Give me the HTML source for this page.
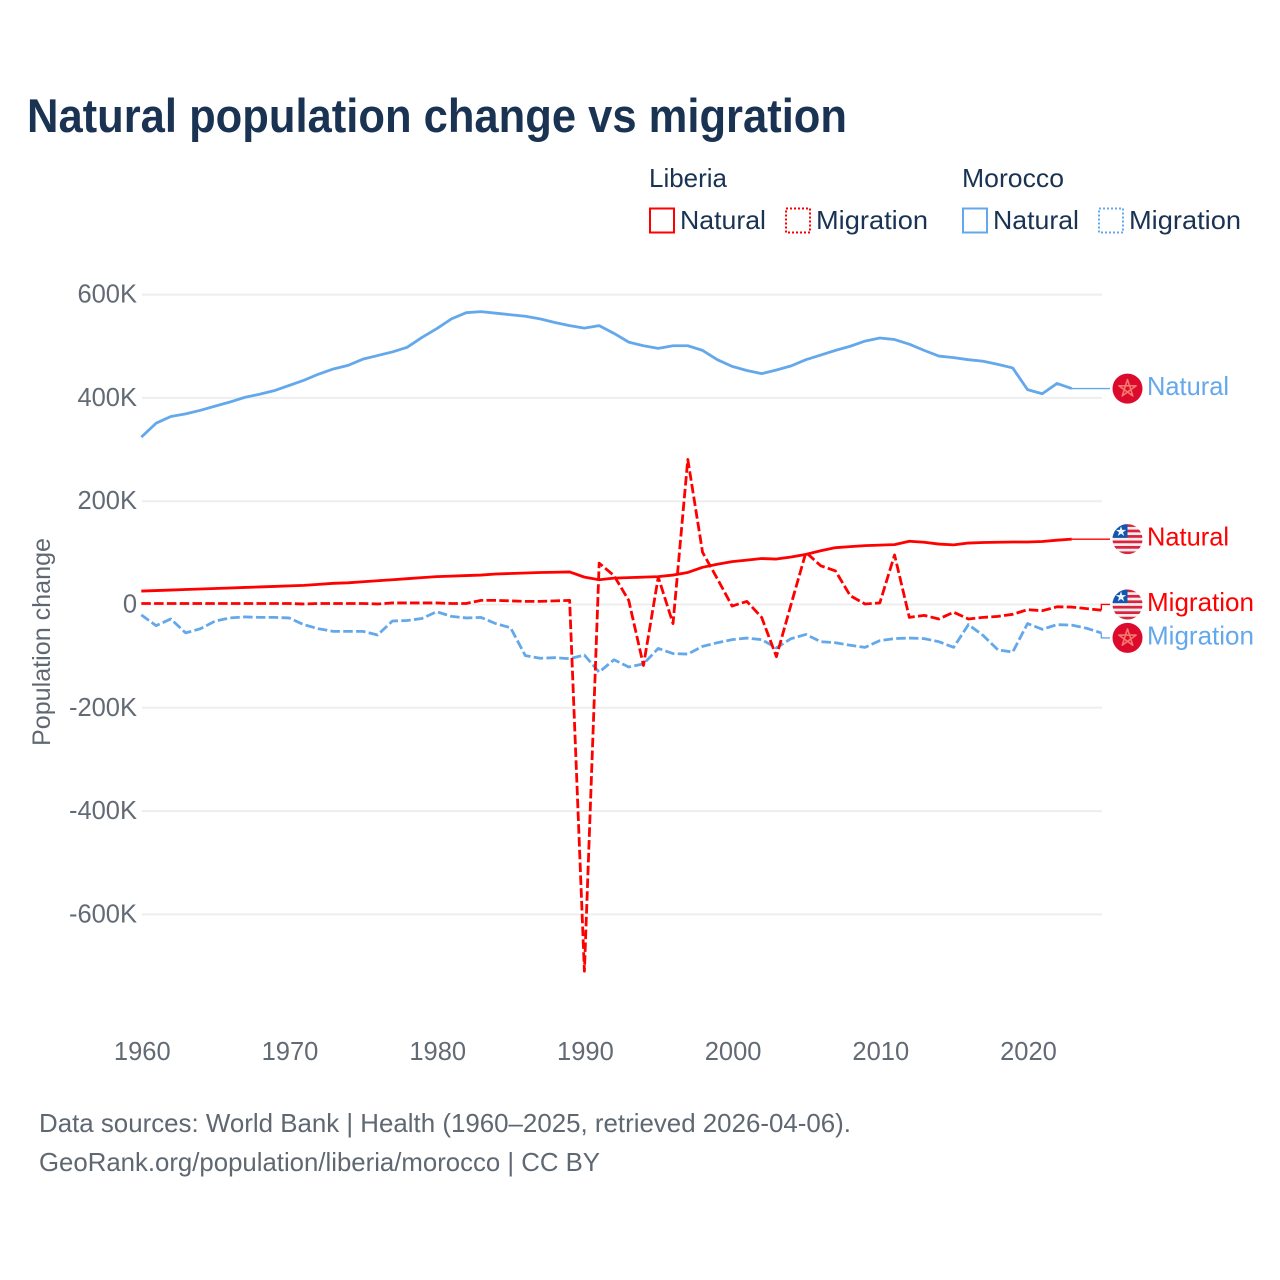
<!DOCTYPE html>
<html lang="en">
<head>
<meta charset="utf-8">
<title>Natural population change vs migration</title>
<style>
html,body{margin:0;padding:0;background:#fff;}
svg{display:block;}
text{font-family:"Liberation Sans",sans-serif;}
</style>
</head>
<body>
<svg id="chart" xmlns="http://www.w3.org/2000/svg" width="1280" height="1280" viewBox="0 0 1280 1280">
  <defs>
    <clipPath id="flag-clip"><circle cx="0" cy="0" r="15"></circle></clipPath>
    <g id="flag-liberia">
      <g clip-path="url(#flag-clip)">
        <rect x="-15" y="-15" width="30" height="30" fill="#f6eeee"></rect>
        <rect x="-15" y="-15" width="30" height="2.73" fill="#d9233f"></rect>
        <rect x="-15" y="-9.55" width="30" height="2.73" fill="#d9233f"></rect>
        <rect x="-15" y="-4.1" width="30" height="2.73" fill="#d9233f"></rect>
        <rect x="-15" y="1.36" width="30" height="2.73" fill="#d9233f"></rect>
        <rect x="-15" y="6.8" width="30" height="2.73" fill="#d9233f"></rect>
        <rect x="-15" y="12.27" width="30" height="2.73" fill="#d9233f"></rect>
        <rect x="-15" y="-15" width="15" height="13.6" fill="#0f57b0"></rect>
        <polygon transform="translate(-6.5 -7.6)" points="0,-5.5 1.23,-1.7 5.23,-1.7 2,0.65 3.23,4.45 0,2.1 -3.23,4.45 -2,0.65 -5.23,-1.7 -1.23,-1.7" fill="#f2f5fa"></polygon>
      </g>
    </g>
    <g id="flag-morocco">
      <circle cx="0" cy="0" r="15" fill="#dc0a2d"></circle>
      <polygon points="0,-9 5.3,7.3 -8.6,-2.8 8.6,-2.8 -5.3,7.3" fill="none" stroke="#f5786e" stroke-width="1.6" stroke-linejoin="round"></polygon>
    </g>
  </defs>

  <text x="27" y="132" font-size="47" font-weight="700" fill="#1a3353" textLength="820" lengthAdjust="spacingAndGlyphs">Natural population change vs migration</text>

  <g>
    <text x="649" y="187" font-size="26" fill="#1a3353" textLength="78" lengthAdjust="spacingAndGlyphs">Liberia</text>
    <text x="962" y="187" font-size="26" fill="#1a3353" textLength="102" lengthAdjust="spacingAndGlyphs">Morocco</text>
    <rect x="650" y="208.5" width="24" height="24" fill="none" stroke="#ff0000" stroke-width="2"></rect>
    <text x="680" y="229" font-size="26" fill="#1a3353" textLength="86" lengthAdjust="spacingAndGlyphs">Natural</text>
    <rect x="786" y="208.5" width="24" height="24" fill="none" stroke="#ff0000" stroke-width="2" stroke-dasharray="2 2"></rect>
    <text x="816" y="229" font-size="26" fill="#1a3353" textLength="112" lengthAdjust="spacingAndGlyphs">Migration</text>
    <rect x="963" y="208.5" width="24" height="24" fill="none" stroke="#64a8ec" stroke-width="2"></rect>
    <text x="993" y="229" font-size="26" fill="#1a3353" textLength="86" lengthAdjust="spacingAndGlyphs">Natural</text>
    <rect x="1099" y="208.5" width="24" height="24" fill="none" stroke="#64a8ec" stroke-width="2" stroke-dasharray="2 2"></rect>
    <text x="1129" y="229" font-size="26" fill="#1a3353" textLength="112" lengthAdjust="spacingAndGlyphs">Migration</text>
  </g>

  <g id="grid"></g>
  <g id="y-ticks"></g>
  <g id="x-ticks"></g>
  <text transform="translate(50 642) rotate(-90)" text-anchor="middle" font-size="25" fill="#5f6872" textLength="208" lengthAdjust="spacingAndGlyphs">Population change</text>
  <g id="series"></g>
  <g id="end-labels"></g>

  <text x="39" y="1132" font-size="26" fill="#5f6872" textLength="812" lengthAdjust="spacingAndGlyphs">Data sources: World Bank | Health (1960–2025, retrieved 2026-04-06).</text>
  <a><text x="39" y="1171" font-size="26" fill="#5f6872" textLength="561" lengthAdjust="spacingAndGlyphs">GeoRank.org/population/liberia/morocco | CC BY</text></a>
</svg>
<script>
const startYear = 1960;
const yTickValues = [600, 400, 200, 0, -200, -400, -600];
const yTickLabels = ["600K", "400K", "200K", "0", "-200K", "-400K", "-600K"];
const xTickValues = [1960, 1970, 1980, 1990, 2000, 2010, 2020];
const xTickLabels = ["1960", "1970", "1980", "1990", "2000", "2010", "2020"];

const moroccoNatural = [324,351,364,369,376,384,392,401,407,414,424,434,446,456,463,475,482,489,498,517,534,553,565,567,564,561,558,553,546,540,535,540,525,508,501,496,501,501,492,474,461,453,447,454,462,474,483,492,500,510,516,513,504,492,481,478,474,471,465,458,416,408,428,418];
const liberiaNatural = [26,27,28,29,30,31,32,33,34,35,36,37,39,41,42,44,46,48,50,52,54,55,56,57,59,60,61,62,62.5,63,53,48,51,52,53,54,57,62,72,78,83,86,89,88,92,97,104,110,112,114,115,116,122.5,120.5,117,115.5,119,120,120.5,121,121,122,124.5,126.5];
const liberiaMigration = [2,2,2,2,2,2,2,2,2,2,2,1,2,2,2,2,1,3,3,3,3,2,2,8,8,7,6,6,7,8,-710,80,56,8,-118,53,-37,281,101,50,-3,6,-25,-101,1,101,75,65,17,1,3,96,-25,-21,-28,-15,-28,-25,-23,-19,-10,-12,-4.5,-5,-8,-11];
const moroccoMigration = [-20,-41,-28,-55,-47,-32,-26,-24,-25,-25,-26,-39,-47,-52,-52,-52,-59,-32,-31,-27,-14,-23,-26,-25,-37,-45,-99,-104,-103,-105,-98,-131,-107,-121,-115,-85,-95,-96,-81,-74,-68,-65,-68,-84,-66,-58,-72,-74,-79,-83,-70,-66,-65,-66,-72,-83,-39,-60,-88,-92,-37,-48,-39,-40,-46,-55];

const NS = "http://www.w3.org/2000/svg";
function xScale(year) { return 141.3 + (year - startYear) * 14.77; }
function yScale(k) { return 604.5 - k * 0.5165; }
function make(tag, attrs, parent, text) {
  const el = document.createElementNS(NS, tag);
  for (const key in attrs) el.setAttribute(key, attrs[key]);
  if (text !== undefined) el.textContent = text;
  parent.appendChild(el);
  return el;
}

const gridG = document.getElementById("grid");
const yTickG = document.getElementById("y-ticks");
yTickValues.forEach(function (v, i) {
  const line = make("line", {x1: 142, x2: 1102, y1: yScale(v), y2: yScale(v), stroke: "#eeeeee", "stroke-width": 2}, gridG);
  
  
  const label = make("text", {x: 137, y: yScale(v) + 8, "text-anchor": "end", "font-size": 25.5, fill: "#626b75"}, yTickG, yTickLabels[i]);
  
  
});

const xTickG = document.getElementById("x-ticks");
xTickValues.forEach(function (v, i) {
  const label = make("text", {x: xScale(v) + 1, y: 1060, "text-anchor": "middle", "font-size": 25.5, fill: "#626b75"}, xTickG, xTickLabels[i]);
  
  
});

function pathFor(values) {
  return values.map(function (v, i) {
    return (i ? "L" : "M") + xScale(startYear + i).toFixed(2) + " " + yScale(v).toFixed(2);
  }).join(" ");
}

function drawSeries(values, color, dashed, seriesName, labelText, flagId, labelOffset, labelWidth) {
  const seriesG = document.getElementById("series");
  const labelsG = document.getElementById("end-labels");
  const lastIndex = values.length - 1;
  const lastX = xScale(startYear + lastIndex);
  const lastY = yScale(values[lastIndex]);
  const labelY = lastY + labelOffset;

  const line = make("path", {d: pathFor(values), fill: "none", stroke: color, "stroke-width": 2.8, "stroke-linejoin": "round"}, seriesG);
  if (dashed) line.setAttribute("stroke-dasharray", "9.5 3.3");
  
  

  const connector = make("path", {d: "M" + lastX + " " + lastY + " L" + lastX + " " + labelY + " L1110 " + labelY, fill: "none", stroke: color, "stroke-width": 1.4}, labelsG);
  
  

  const flag = make("use", {href: "#" + flagId, x: 1127.5, y: labelY}, labelsG);
  
  

  const label = make("text", {x: 1147, y: labelY + 6.5, "font-size": 26, fill: color, textLength: labelWidth, lengthAdjust: "spacingAndGlyphs"}, labelsG, labelText);
  
  
}

drawSeries(moroccoNatural, "#64a8ec", false, "morocco-natural", "Natural", "flag-morocco", 0, 82);
drawSeries(moroccoMigration, "#64a8ec", true, "morocco-migration", "Migration", "flag-morocco", 5, 107);
drawSeries(liberiaNatural, "#ff0000", false, "liberia-natural", "Natural", "flag-liberia", 0, 82);
drawSeries(liberiaMigration, "#ff0000", true, "liberia-migration", "Migration", "flag-liberia", -5.7, 107);
</script>
</body>
</html>
